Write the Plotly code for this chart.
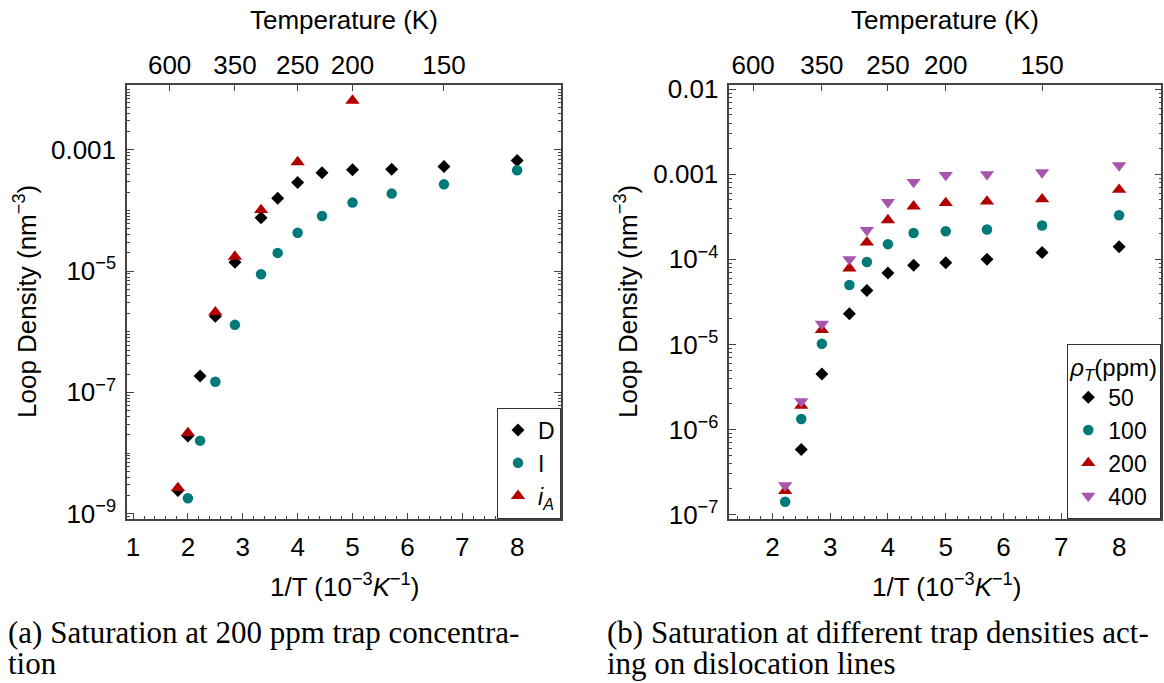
import plotly.graph_objects as go

# ---------------- data ----------------
# Panel (a): 200 ppm trap concentration
x_D = [1.818, 2.0, 2.222, 2.5, 2.857, 3.333, 3.636, 4.0, 4.444, 5.0, 5.714, 6.667, 8.0]
y_D = [2.4e-9, 1.9e-8, 1.86e-7, 1.8e-6, 1.4e-5, 7.6e-5, 1.6e-4, 2.9e-4, 4.2e-4, 4.7e-4, 4.8e-4, 5.3e-4, 6.65e-4]

x_I = [2.0, 2.222, 2.5, 2.857, 3.333, 3.636, 4.0, 4.444, 5.0, 5.714, 6.667, 8.0]
y_I = [1.8e-9, 1.6e-8, 1.5e-7, 1.3e-6, 8.9e-6, 2.0e-5, 4.3e-5, 8.1e-5, 1.35e-4, 1.9e-4, 2.7e-4, 4.6e-4]

x_iA = [1.818, 2.0, 2.5, 2.857, 3.333, 4.0, 5.0]
y_iA = [2.66e-9, 2.14e-8, 2.1e-6, 1.74e-5, 1.02e-4, 6.3e-4, 6.5e-3]

# Panel (b): different trap densities
x_50 = [2.5, 2.857, 3.333, 3.636, 4.0, 4.444, 5.0, 5.714, 6.667, 8.0]
y_50 = [5.8e-7, 4.5e-6, 2.3e-5, 4.3e-5, 6.9e-5, 8.5e-5, 9.1e-5, 1.0e-4, 1.2e-4, 1.41e-4]

x_rho = [2.222, 2.5, 2.857, 3.333, 3.636, 4.0, 4.444, 5.0, 5.714, 6.667, 8.0]
y_100 = [1.41e-7, 1.33e-6, 1.02e-5, 5.0e-5, 9.3e-5, 1.51e-4, 2.04e-4, 2.14e-4, 2.24e-4, 2.5e-4, 3.3e-4]
y_200 = [1.9e-7, 1.9e-6, 1.48e-5, 7.85e-5, 1.58e-4, 2.9e-4, 4.2e-4, 4.6e-4, 4.8e-4, 5.1e-4, 6.6e-4]
y_400 = [2.2e-7, 2.14e-6, 1.74e-5, 1.0e-4, 2.2e-4, 4.7e-4, 8.1e-4, 9.8e-4, 1.0e-3, 1.05e-3, 1.27e-3]

# Top (temperature) axis
temp_pos = [1.667, 2.857, 4.0, 5.0, 6.667]
temp_labels = ["600", "350", "250", "200", "150"]

# Tick labels
yl_vals = [1e-9, 1e-7, 1e-5, 1e-3]
yl_text = ["10<sup>−9</sup>", "10<sup>−7</sup>", "10<sup>−5</sup>", "0.001"]
yr_vals = [1e-7, 1e-6, 1e-5, 1e-4, 1e-3, 1e-2]
yr_text = ["10<sup>−7</sup>", "10<sup>−6</sup>", "10<sup>−5</sup>", "10<sup>−4</sup>", "0.001", "0.01"]

# ---------------- style ----------------
W, H = 1164, 683
FONT = "Liberation Sans, Arial, sans-serif"
SERIF = "Liberation Serif, Times New Roman, serif"
FS = 26
LFS = 23
AX = "#444444"
BLACK = "#000000"
TEAL = "#007a78"
RED = "#b00000"
PURPLE = "#a855ac"

def px(x):
    return x / W

def py(y):
    return 1 - y / H

L_dom = [px(127), px(561)]
R_dom = [px(729.3), px(1161.3)]
Y_dom = [py(518.5), py(85)]

minor_log = [m * 10.0 ** e for e in range(-10, -1) for m in range(1, 10)]

fig = go.Figure()

def add(x, y, name, sym, color, size, xa, ya, leg):
    fig.add_trace(go.Scatter(
        x=x, y=y, mode="markers", name=name, xaxis=xa, yaxis=ya, legend=leg,
        marker=dict(symbol=sym, color=color, size=size, line=dict(width=0)),
    ))

SD, SC, ST = 10, 10.5, 12.5
add(x_D, y_D, "D", "diamond", BLACK, SD, "x", "y", "legend")
add(x_I, y_I, "I", "circle", TEAL, SC, "x", "y", "legend")
add(x_iA, y_iA, "<i>i</i><sub><i>A</i></sub>", "triangle-up", RED, ST, "x", "y", "legend")

add(x_50, y_50, "50", "diamond", BLACK, SD, "x3", "y3", "legend2")
add(x_rho, y_100, "100", "circle", TEAL, SC, "x3", "y3", "legend2")
add(x_rho, y_200, "200", "triangle-up", RED, ST, "x3", "y3", "legend2")
add(x_rho, y_400, "400", "triangle-down", PURPLE, ST, "x3", "y3", "legend2")

def xbottom(dom, rng, anchor):
    return dict(domain=dom, range=rng, anchor=anchor, showgrid=False, zeroline=False,
                automargin=False,
                showline=True, linecolor=AX, linewidth=1.5, mirror=True,
                ticks="inside", ticklen=6, tickwidth=1, tickcolor=AX,
                tickmode="linear", tick0=0, dtick=1,
                minor=dict(ticks="inside", ticklen=3, tickwidth=1, tickcolor=AX,
                           dtick=0.2, tick0=0, showgrid=False),
                tickfont=dict(family=FONT, size=FS, color=BLACK),
                ticklabelstandoff=5)

def xtop(rng, overlay, anchor):
    return dict(overlaying=overlay, anchor=anchor, side="top", range=rng,
                automargin=False,
                showgrid=False, zeroline=False, showline=False,
                ticks="inside", ticklen=6, tickwidth=1, tickcolor=AX,
                tickmode="array", tickvals=temp_pos, ticktext=temp_labels,
                tickfont=dict(family=FONT, size=FS, color=BLACK),
                ticklabelstandoff=5)

def ylog(dom, rng, anchor, vals, text):
    return dict(domain=dom, type="log", range=rng, anchor=anchor, showgrid=False,
                automargin=False,
                zeroline=False, showline=True, linecolor=AX, linewidth=1.5,
                mirror="ticks", ticks="inside", ticklen=7, tickwidth=1, tickcolor=AX,
                tickmode="array", tickvals=vals, ticktext=text,
                minor=dict(ticks="inside", ticklen=3, tickwidth=1, tickcolor=AX,
                           tickmode="array", tickvals=minor_log, showgrid=False),
                tickfont=dict(family=FONT, size=FS, color=BLACK),
                ticklabelstandoff=4)

fig.update_layout(
    width=W, height=H, margin=dict(l=0, r=0, t=0, b=0, autoexpand=False),
    paper_bgcolor="white", plot_bgcolor="white",
    font=dict(family=FONT, size=FS, color=BLACK),
    xaxis=xbottom(L_dom, [0.89, 8.8], "y"),
    xaxis2=xtop([0.89, 8.8], "x", "y"),
    yaxis=ylog(Y_dom, [-9.08, -1.93], "x", yl_vals, yl_text),
    xaxis3=xbottom(R_dom, [1.255, 8.73], "y3"),
    xaxis4=xtop([1.255, 8.73], "x3", "y3"),
    yaxis3=ylog(Y_dom, [-7.047, -1.95], "x3", yr_vals, yr_text),
    legend=dict(x=L_dom[1], y=Y_dom[0], xanchor="right", yanchor="bottom",
                bgcolor="white", bordercolor="#333333", borderwidth=1,
                font=dict(family=FONT, size=LFS, color=BLACK),
                itemwidth=30, tracegroupgap=0),
    legend2=dict(x=R_dom[1], y=Y_dom[0], xanchor="right", yanchor="bottom",
                 bgcolor="white", bordercolor="#333333", borderwidth=1,
                 font=dict(family=FONT, size=LFS, color=BLACK),
                 itemwidth=30, tracegroupgap=0,
                 title=dict(text="<i>ρ</i><sub><i>T</i></sub>(ppm)",
                            font=dict(family=FONT, size=LFS + 1, color=BLACK))),
    showlegend=True,
)

# placeholder traces so the top axes render
fig.add_trace(go.Scatter(x=[None], y=[None], xaxis="x2", yaxis="y", showlegend=False, hoverinfo="skip"))
fig.add_trace(go.Scatter(x=[None], y=[None], xaxis="x4", yaxis="y3", showlegend=False, hoverinfo="skip"))

ann = []
def text(x, y, s, size=FS, family=FONT, angle=0, xanchor="center"):
    ann.append(dict(x=px(x), y=py(y), xref="paper", yref="paper", text=s, showarrow=False,
                    xanchor=xanchor, yanchor="middle", textangle=angle,
                    font=dict(family=family, size=size, color=BLACK)))

text(344, 20, "Temperature (K)")
text(945, 20, "Temperature (K)")
text(344, 585, "1/T (10<sup>−3</sup><i>K</i><sup>−1</sup>)")
text(946, 585, "1/T (10<sup>−3</sup><i>K</i><sup>−1</sup>)")
text(26, 302, "Loop Density (nm<sup>−3</sup>)", angle=-90)
text(627, 302, "Loop Density (nm<sup>−3</sup>)", angle=-90)

CS = 31
text(6, 632, "(a) Saturation at 200 ppm trap concentra-", size=CS, family=SERIF, xanchor="left")
text(6, 663, "tion", size=CS, family=SERIF, xanchor="left")
text(605, 632, "(b) Saturation at different trap densities act-", size=CS, family=SERIF, xanchor="left")
text(605, 663, "ing on dislocation lines", size=CS, family=SERIF, xanchor="left")

fig.update_layout(annotations=ann)

fig.write_html("out.html")
